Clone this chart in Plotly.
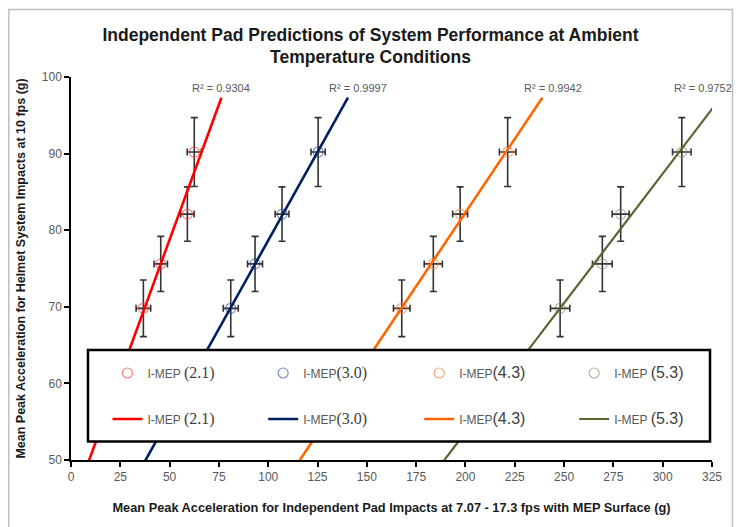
import numpy as np
import plotly.graph_objects as go

# ---------------- data ----------------
series_names = ["2.1", "3.0", "4.3", "5.3"]
y_system = [69.8, 75.6, 82.1, 90.2]          # helmet system mean peak acc (g)
y_err = [3.7, 3.6, 3.55, 4.5]

x_red = [36.7, 45.5, 59.0, 62.5]
x_blue = [81.0, 93.3, 107.0, 125.3]
x_orange = [167.7, 183.7, 197.3, 221.4]
x_olive = [248.0, 269.4, 278.7, 309.7]

xerr_red = [3.7, 3.4, 3.4, 3.6]
xerr_blue = [3.8, 3.8, 3.5, 3.6]
xerr_orange = [4.2, 4.6, 3.8, 4.2]
xerr_olive = [4.9, 5.0, 4.3, 4.7]

r2_labels = ["0.9304", "0.9997", "0.9942", "0.9752"]
trend_y_top = 97.3
trend_y_bottom = 45.0

x_ticks = list(range(0, 326, 25))
y_ticks = list(range(50, 101, 10))

# ---------------- styles ----------------
line_colors = ["#FF0000", "#002060", "#FF6600", "#606030"]
marker_colors = ["rgba(255,60,60,0.65)", "rgba(40,70,150,0.6)",
                 "rgba(255,120,50,0.65)", "rgba(120,120,80,0.55)"]
line_widths = [2.6, 2.6, 2.6, 2.2]
r2_xshift = [0, 10, 11, -9]
legend_cols = [0.0569, 0.2998, 0.5432, 0.7850]
legend_rows = [0.2272, 0.1070]

serif = "font-family:'Liberation Serif';font-size:16px;color:#404040"
sans_big = "font-family:'Liberation Sans';font-size:16px;color:#404040"
legend_names = [
    f"I-MEP <span style=\"{serif}\">(2.1)</span>",
    f"I-MEP<span style=\"{serif}\">(3.0)</span>",
    f"I-MEP<span style=\"{sans_big}\">(4.3)</span>",
    f"I-MEP <span style=\"{sans_big}\">(5.3)</span>",
]

xs = [x_red, x_blue, x_orange, x_olive]
xerrs = [xerr_red, xerr_blue, xerr_orange, xerr_olive]

fig = go.Figure()

# marker traces (first legend row)
for i in range(4):
    fig.add_trace(go.Scatter(
        x=xs[i], y=y_system, mode="markers", name=legend_names[i],
        legend="legend" if i == 0 else f"legend{i + 1}", showlegend=True,
        marker=dict(symbol="circle-open", size=10, color=marker_colors[i],
                    line=dict(width=1.2, color=marker_colors[i])),
        error_y=dict(type="data", array=y_err, color="#333333", thickness=1.6, width=3.5),
        error_x=dict(type="data", array=xerrs[i], color="#333333", thickness=1.6, width=3.5),
    ))

# linear trendlines (second legend row)
fits = []
for i in range(4):
    m, b = np.polyfit(xs[i], y_system, 1)
    fits.append((m, b))
    x0 = (trend_y_bottom - b) / m
    x1 = (trend_y_top - b) / m
    fig.add_trace(go.Scatter(
        x=[x0, x1], y=[m * x0 + b, m * x1 + b], mode="lines",
        name=legend_names[i], legend=f"legend{i + 5}", showlegend=True,
        line=dict(color=line_colors[i], width=line_widths[i]),
    ))

# R^2 labels
annotations = []
for i in range(4):
    m, b = fits[i]
    xe = min((trend_y_top - b) / m, 325)
    annotations.append(dict(
        x=xe, y=98.6, xref="x", yref="y", text=f"R² = {r2_labels[i]}",
        showarrow=False, xshift=r2_xshift[i],
        font=dict(family="Liberation Sans", size=11, color="#595959"),
    ))

legend_common = dict(
    orientation="h", xanchor="left", yanchor="middle",
    bgcolor="rgba(0,0,0,0)", borderwidth=0,
    font=dict(family="Liberation Sans", size=12, color="#595959"),
)
legends = {}
for r in range(2):
    for c in range(4):
        k = r * 4 + c
        key = "legend" if k == 0 else f"legend{k + 1}"
        legends[key] = dict(x=legend_cols[c], y=legend_rows[r], **legend_common)

fig.update_layout(
    width=741, height=527, showlegend=True,
    margin=dict(l=71, r=29, t=77, b=67),
    paper_bgcolor="white", plot_bgcolor="white",
    title=dict(
        text="Independent Pad Predictions of System Performance at Ambient<br>Temperature Conditions",
        x=0.5, xanchor="center", xref="container", y=0.923, yanchor="top",
        font=dict(family="Liberation Sans", size=17.5, color="#1a1a1a", weight="bold"),
    ),
    xaxis=dict(
        range=[0, 325], tickvals=x_ticks, showgrid=False, zeroline=False,
        showline=True, linecolor="black", linewidth=1.5,
        ticks="outside", ticklen=5, tickwidth=1.5, tickcolor="black",
        tickfont=dict(family="Liberation Sans", size=12, color="#595959"),
        title=dict(text="<b>Mean Peak Acceleration for Independent Pad Impacts at 7.07 - 17.3 fps with MEP Surface (g)</b>",
                   font=dict(family="Liberation Sans", size=12.8, color="#1a1a1a"), standoff=20),
    ),
    yaxis=dict(
        range=[50, 100], tickvals=y_ticks, showgrid=False, zeroline=False,
        showline=True, linecolor="black", linewidth=1.5,
        ticks="outside", ticklen=5, tickwidth=1.5, tickcolor="black",
        tickfont=dict(family="Liberation Sans", size=12, color="#595959"),
        title=dict(text="<b>Mean Peak Acceleration for Helmet System Impacts at 10 fps (g)</b>",
                   font=dict(family="Liberation Sans", size=12.5, color="#1a1a1a"), standoff=13),
    ),
    annotations=annotations,
    shapes=[
        dict(type="rect", xref="paper", yref="paper", x0=0.0265, x1=0.9969, y0=0.0483, y1=0.2872,
             fillcolor="white", line=dict(color="black", width=2.5), layer="above"),
        dict(type="rect", xref="paper", yref="paper", x0=-0.097, x1=1.032, y0=-0.2, y1=1.176,
             fillcolor="rgba(0,0,0,0)", line=dict(color="#BFBFBF", width=1.5), layer="below"),
    ],
    **legends,
)

fig.write_html("out.html", config={"displayModeBar": False},
               post_script="document.body.style.margin='0px';")
